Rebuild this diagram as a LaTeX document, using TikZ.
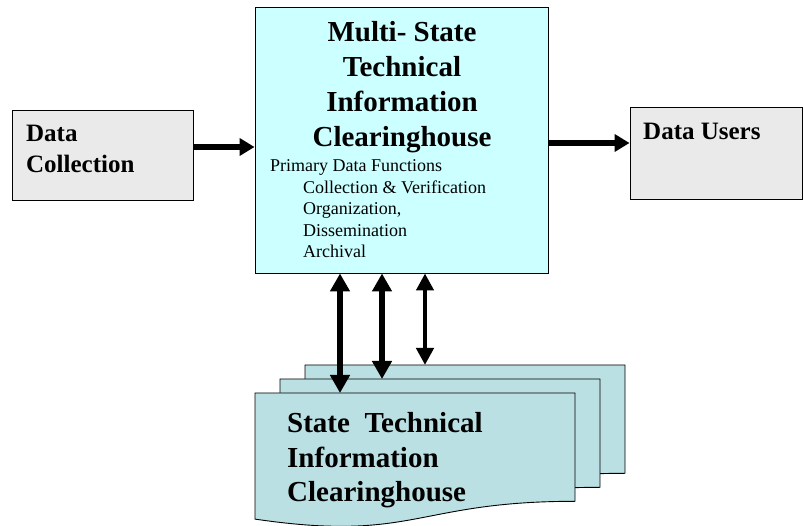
\documentclass[tikz,border=0pt]{standalone}
\usepackage{fontspec}
\setmainfont{Liberation Serif}
\usetikzlibrary{arrows.meta,calc}
\definecolor{maincyan}{HTML}{CCFFFF}
\definecolor{boxgrey}{HTML}{EAEAEA}
\definecolor{docblue}{HTML}{BAE0E3}
\newcommand{\stdoc}[2]{%
  \draw[docstyle] (#1,#2) -- ({#1+320},#2) -- ({#1+320},{#2+108.3})
    .. controls ({#1+160},{#2+108.3}) and ({#1+160},{#2+149.6}) .. (#1,{#2+126.1}) -- cycle;}
\begin{document}
\begin{tikzpicture}[x=1pt,y=-1pt,
  mainbox/.style={draw=black,line width=0.9pt,fill=maincyan,inner sep=0pt},
  greybox/.style={draw=black,line width=0.9pt,fill=boxgrey,inner sep=0pt},
  docstyle/.style={draw=black,line width=0.9pt,fill=docblue},
  bigtitle/.style={inner sep=0pt,anchor=base,font=\fontsize{29}{35}\selectfont\bfseries},
  doctext/.style={inner sep=0pt,anchor=base west,font=\fontsize{29}{35}\selectfont\bfseries},
  boxtext/.style={inner sep=0pt,anchor=base west,font=\fontsize{25}{31}\selectfont\bfseries},
  smalltext/.style={inner sep=0pt,anchor=base west,font=\fontsize{18}{21.5}\selectfont},
  harrow/.style={line width=6pt,-{Triangle[length=15pt,width=17pt]}},
  varrow/.style={line width=6pt,{Triangle[length=18pt,width=19pt]}-{Triangle[length=18pt,width=19pt]}},
  varrowthin/.style={line width=4.5pt,{Triangle[length=17pt,width=17pt]}-{Triangle[length=17pt,width=17pt]}}]
\useasboundingbox (0,0) rectangle (804,526);

% boxes
\node[mainbox,minimum width=293pt,minimum height=266pt] (main) at (401.5,140) {};
\node[greybox,minimum width=181pt,minimum height=90pt] (dc) at (102.5,155) {};
\node[greybox,minimum width=172pt,minimum height=92pt] (du) at (716,153) {};

% main texts
\node[bigtitle] (t1) at (402,42) {Multi- State};
\node[bigtitle] (t2) at (402,77) {Technical};
\node[bigtitle] (t3) at (402,112) {Information};
\node[bigtitle] (t4) at (402,147) {Clearinghouse};
\node[smalltext] (s1) at (270,172) {Primary Data Functions};
\node[smalltext] (s2) at (303,193.5) {Collection \& Verification};
\node[smalltext] (s3) at (303,215) {Organization,};
\node[smalltext] (s4) at (303,236.5) {Dissemination};
\node[smalltext] (s5) at (303,258) {Archival};

\node[boxtext] (dct1) at (26,142) {Data};
\node[boxtext] (dct2) at (26,173) {Collection};
\node[boxtext] (dut1) at (643,140) {Data Users};

% stacked documents
\stdoc{305}{365}
\stdoc{280}{379}
\stdoc{255}{393}
\coordinate (backtop) at (305,365);
\coordinate (midtop) at (280,379);
\coordinate (fronttop) at (255,393);

\node[doctext] (d1) at (287,433) {State\ \ Technical};
\node[doctext] (d2) at (287,468) {Information};
\node[doctext] (d3) at (287,502) {Clearinghouse};

% horizontal arrows
\draw[harrow] ([yshift=8pt]dc.east) -- ([yshift=8pt]dc.east -| main.west);
\draw[harrow] ([yshift=10pt]du.west -| main.east) -- ([yshift=10pt]du.west);

% vertical arrows
\coordinate (a1) at (340,0);
\coordinate (a2) at (382,0);
\coordinate (a3) at (425,0);
\draw[varrow] (a1 |- main.south) -- (a1 |- fronttop);
\draw[varrow] (a2 |- main.south) -- (a2 |- midtop);
\draw[varrowthin] (a3 |- main.south) -- (a3 |- backtop);
\end{tikzpicture}
\end{document}
